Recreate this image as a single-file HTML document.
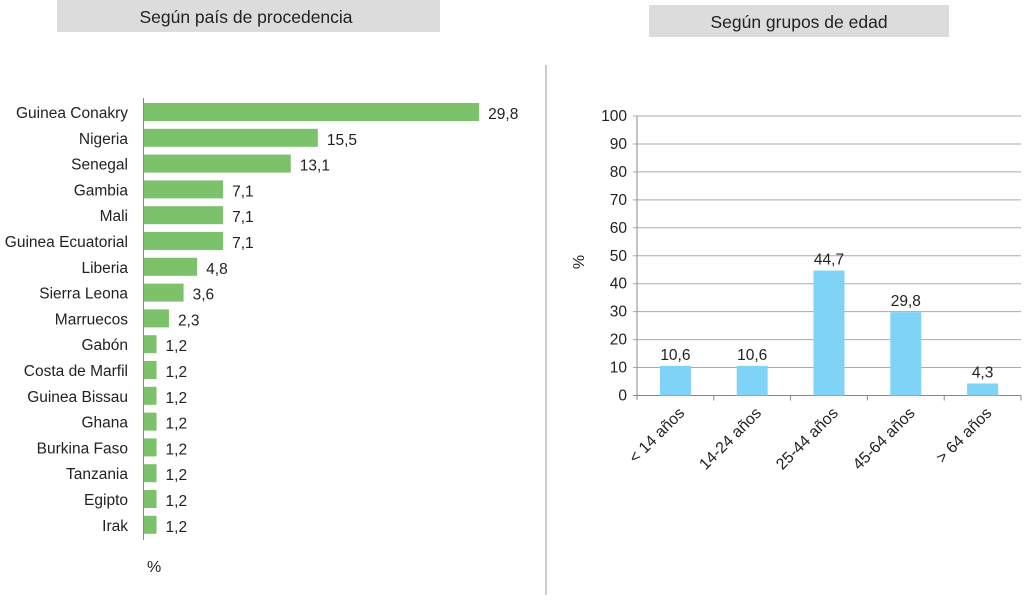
<!DOCTYPE html>
<html><head><meta charset="utf-8"><style>
body{margin:0;width:1024px;height:595px;background:#fff;overflow:hidden;font-family:"Liberation Sans",sans-serif}
svg text{font-family:"Liberation Sans",sans-serif;fill:#222}
</style></head><body>
<svg id="s" width="1024" height="595" xmlns="http://www.w3.org/2000/svg">
<rect x="57" y="0" width="383" height="32" fill="#dcdcdc"/>
<text x="246" y="23" font-size="17.5" text-anchor="middle">Según país de procedencia</text>
<rect x="649" y="5" width="300" height="32" fill="#dcdcdc"/>
<text x="799" y="28" font-size="17.5" text-anchor="middle">Según grupos de edad</text>
<line x1="546" y1="65" x2="546" y2="595" stroke="#999" stroke-width="1"/>
<g id="left"></g><g id="right"></g>
<text x="147" y="572" font-size="16">%</text>
<text x="584" y="262" font-size="16" text-anchor="middle" transform="rotate(-90 584 262)">%</text>
</svg>
<script>
const countries=["Guinea Conakry","Nigeria","Senegal","Gambia","Mali","Guinea Ecuatorial","Liberia","Sierra Leona","Marruecos","Gabón","Costa de Marfil","Guinea Bissau","Ghana","Burkina Faso","Tanzania","Egipto","Irak"];
const countryValues=[29.8,15.5,13.1,7.1,7.1,7.1,4.8,3.6,2.3,1.2,1.2,1.2,1.2,1.2,1.2,1.2,1.2];
const ageGroups=["< 14 años","14-24 años","25-44 años","45-64 años","> 64 años"];
const ageValues=[10.6,10.6,44.7,29.8,4.3];
const yTicks=[0,10,20,30,40,50,60,70,80,90,100];
const NS="http://www.w3.org/2000/svg";
function mk(t,a,p){const e=document.createElementNS(NS,t);for(const k in a)e.setAttribute(k,a[k]);p.appendChild(e);return e;}
const fmt=v=>v.toFixed(1).replace('.',',');
const L=document.getElementById('left');
const lx=v=>143+v*11.28, ly=i=>103+i*25.8;
countries.forEach((c,i)=>{
 const r=mk('rect',{x:143,y:ly(i),width:lx(countryValues[i])-143,height:18,fill:'#7cc26a'},L);
 
 
 const t=mk('text',{x:128,y:ly(i)+15,'font-size':15.5,'text-anchor':'end'},L);t.textContent=c;
 
 
 const v=mk('text',{x:lx(countryValues[i])+9,y:ly(i)+16,'font-size':15.5},L);v.textContent=fmt(countryValues[i]);
 
 
});
const la=mk('line',{x1:143.5,y1:98,x2:143.5,y2:540,stroke:'#888'},L);


const R=document.getElementById('right');
const x0=637,x1=1021,y0=395.5,ys=(395.5-116)/100;
const ry=v=>y0-v*ys, bw=(x1-x0)/ageGroups.length;
yTicks.forEach(t=>{
 const g=mk('line',{x1:x0-4,y1:ry(t),x2:x1,y2:ry(t),stroke:t==0?'#888':'#aaa'},R);
 
 
 const tx=mk('text',{x:x0-10,y:ry(t)+5,'font-size':15.5,'text-anchor':'end'},R);tx.textContent=t;
 
 
});
const ra=mk('line',{x1:x0,y1:116,x2:x0,y2:400,stroke:'#888'},R);


ageGroups.forEach((a,i)=>{
 const cx=x0+bw*(i+0.5);
 const tk=mk('line',{x1:x0+bw*(i+1),y1:y0,x2:x0+bw*(i+1),y2:y0+5,stroke:'#888'},R);
 
 
 const b=mk('rect',{x:cx-15.5,y:ry(ageValues[i]),width:31,height:y0-ry(ageValues[i]),fill:'#7fd3f7'},R);
 
 
 const v=mk('text',{x:cx,y:ry(ageValues[i])-6,'font-size':15.5,'text-anchor':'middle'},R);v.textContent=fmt(ageValues[i]);
 
 
 const l=mk('text',{x:cx+10,y:414,'font-size':16,'text-anchor':'end',transform:`rotate(-45 ${cx+10} 414)`},R);l.textContent=a;
 
 
});
</script>
</body></html>
